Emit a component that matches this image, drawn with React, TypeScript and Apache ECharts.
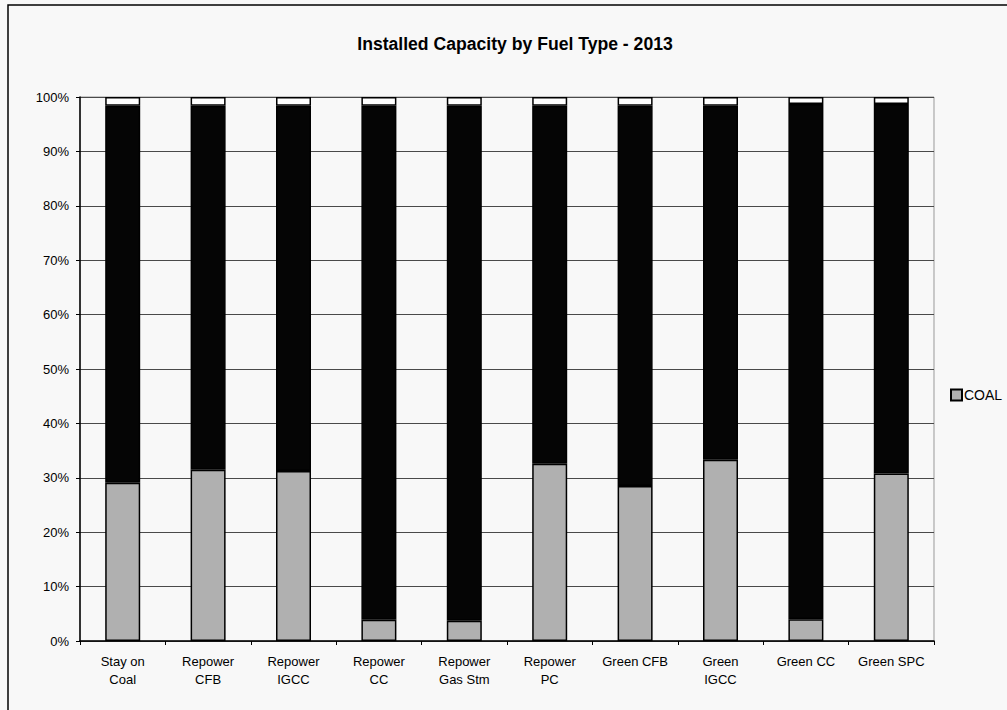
import React, { useEffect, useRef } from "react";
import * as echarts from "echarts";

const categories = [
  "Stay on\nCoal",
  "Repower\nCFB",
  "Repower\nIGCC",
  "Repower\nCC",
  "Repower\nGas Stm",
  "Repower\nPC",
  "Green CFB",
  "Green\nIGCC",
  "Green CC",
  "Green SPC",
];
const coalShare = [29.1, 31.5, 31.25, 3.9, 3.7, 32.6, 28.5, 33.3, 4.0, 30.8];
const gasShare = [69.3, 66.9, 67.15, 94.5, 94.7, 65.8, 69.9, 65.1, 94.7, 67.9];
const otherShare = [1.6, 1.6, 1.6, 1.6, 1.6, 1.6, 1.6, 1.6, 1.3, 1.3];
const yTicks = [0, 10, 20, 30, 40, 50, 60, 70, 80, 90, 100];

const FONT = "'Liberation Sans', Arial, sans-serif";

export default function App() {
  const ref = useRef<HTMLDivElement>(null);
  useEffect(() => {
    if (!ref.current) return;
    const chart = echarts.init(ref.current, null, { renderer: "svg" });
    const barBorder = { borderColor: "#000", borderWidth: 1.5 };
    chart.setOption({
      animation: false,
      backgroundColor: "#f8f8f8",
      title: {
        text: "Installed Capacity by Fuel Type - 2013",
        left: 510,
        textAlign: "center",
        top: 30,
        textStyle: { fontFamily: FONT, fontSize: 17.6, fontWeight: "bold", color: "#000" },
      },
      legend: {
        data: ["COAL"],
        left: 945,
        top: 383,
        itemWidth: 11,
        itemHeight: 11,
        itemGap: 4,
        icon: "rect",
        textStyle: { fontFamily: FONT, fontSize: 14, color: "#000", padding: [0, 0, 0, -3] },
      },
      grid: {
        left: 80,
        right: 73,
        top: 97,
        bottom: 69,
        show: true,
        borderColor: "#999",
        borderWidth: 1,
        backgroundColor: "transparent",
      },
      xAxis: {
        type: "category",
        data: categories,
        axisLine: { lineStyle: { color: "#000", width: 1.5 } },
        axisTick: { show: true, alignWithLabel: false, length: 4, lineStyle: { color: "#000" } },
        axisLabel: {
          fontFamily: FONT,
          fontSize: 13,
          color: "#000",
          margin: 11,
          lineHeight: 18,
          interval: 0,
        },
      },
      yAxis: {
        type: "value",
        min: 0,
        max: 100,
        interval: 10,
        axisLine: { show: true, lineStyle: { color: "#000", width: 1.5 } },
        axisTick: { show: true, length: 4, lineStyle: { color: "#000" } },
        axisLabel: {
          fontFamily: FONT,
          fontSize: 13,
          color: "#000",
          margin: 11,
          formatter: (v: number) => (yTicks.includes(v) ? v + "%" : ""),
        },
        splitLine: { show: true, lineStyle: { color: "#4a4a4a", width: 1 } },
      },
      series: [
        {
          name: "COAL",
          type: "bar",
          stack: "total",
          barWidth: 35,
          data: coalShare,
          itemStyle: { color: "#b0b0b0", ...barBorder },
        },
        {
          name: "GAS",
          type: "bar",
          stack: "total",
          barWidth: 35,
          data: gasShare,
          itemStyle: { color: "#050505", ...barBorder },
        },
        {
          name: "OTHER",
          type: "bar",
          stack: "total",
          barWidth: 35,
          data: otherShare,
          itemStyle: { color: "#ffffff", ...barBorder },
        },
      ],
      graphic: [
        {
          type: "rect",
          shape: { x: 8, y: 5, width: 1100, height: 800 },
          style: { fill: "none", stroke: "#000", lineWidth: 1.5 },
          silent: true,
        },
      ],
    });
    return () => chart.dispose();
  }, []);
  return (
    <div
      ref={ref}
      style={{ position: "fixed", left: 0, top: 0, width: 1007, height: 710 }}
    />
  );
}
